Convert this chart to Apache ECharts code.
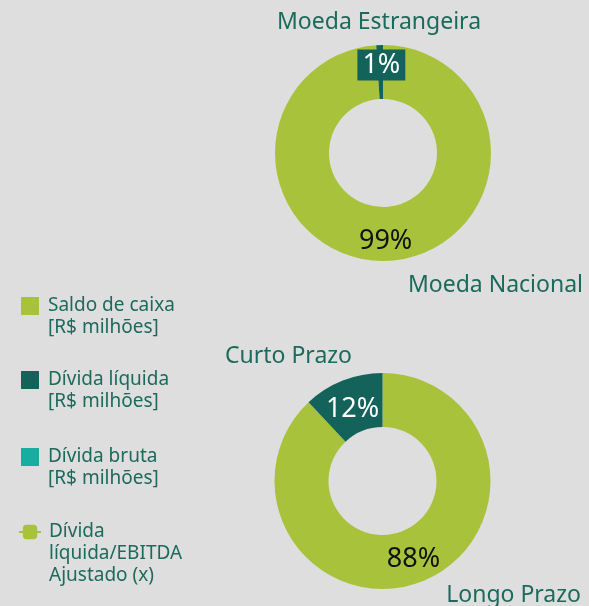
<!DOCTYPE html>
<html lang="pt">

<head>
    <meta charset="UTF-8" />
    <title>Endividamento</title>
    <script src="https://cdn.jsdelivr.net/npm/echarts@6/dist/echarts.min.js"></script>
    <style>
        html, body {
            margin: 0;
            padding: 0;
            background-color: #dedede;
        }
        #main {
            width: 589px;
            height: 606px;
        }
    </style>
</head>

<body>
    <div id="main"></div>

    <script type="text/javascript">
        // dados
        var moedaNames = ['Moeda Nacional', 'Moeda Estrangeira'];
        var moedaValues = [99, 1];
        var prazoNames = ['Longo Prazo', 'Curto Prazo'];
        var prazoValues = [88, 12];
        var legendNames = [
            'Saldo de caixa\n[R$ milhões]',
            'Dívida líquida\n[R$ milhões]',
            'Dívida bruta\n[R$ milhões]',
            'Dívida\nlíquida/EBITDA\nAjustado (x)'
        ];

        var lime = '#a9c23b';
        var dark = '#13635a';
        var teal = '#15aea0';
        var textColor = '#1b6a5c';
        var font = 'Noto Sans';

        var chart = echarts.init(document.getElementById('main'));

        function pieData(names, values) {
            return names.map(function (n, i) {
                var item = { name: n, value: values[i] };
                if (i === 1) {
                    item.itemStyle = { color: dark };
                    item.label = { color: '#ffffff' };
                }
                return item;
            });
        }

        var topData = pieData(moedaNames, moedaValues);
        topData[0].label = { offset: [0, 4] };
        // rótulo do 1% com caixa
        topData[1].label = {
            color: '#ffffff',
            backgroundColor: dark,
            padding: [2, 5, 2, 5],
            lineHeight: 27,
            offset: [1, -4]
        };
        var bottomData = pieData(prazoNames, prazoValues);
        bottomData[1].label = { color: '#ffffff', offset: [1, 6] };

        function pieSeries(center, data) {
            return {
                type: 'pie',
                center: center,
                radius: [54, 108],
                startAngle: 90,
                clockwise: true,
                silent: true,
                itemStyle: { color: lime },
                label: {
                    show: true,
                    position: 'inside',
                    fontFamily: font,
                    fontSize: 27,
                    color: '#111111',
                    formatter: function (p) { return Math.round(p.value) + '%'; }
                },
                labelLine: { show: false },
                data: data
            };
        }

        // legendas: uma por item, ícone alinhado à primeira linha
        var legendTops = [273, 347, 424, 477];
        var legends = legendNames.map(function (n, i) {
            var lines = n.split('\n').length;
            var isLine = i === 3;
            var lg = {
                orient: 'vertical',
                left: isLine ? 18 : 21,
                top: legendTops[i],
                padding: 0,
                itemWidth: isLine ? 22 : 18,
                itemHeight: 18,
                selectedMode: false,
                data: [n],
                formatter: function (name) {
                    return new Array(lines).join('\n') + name;
                },
                textStyle: {
                    fontFamily: font,
                    fontSize: 19,
                    lineHeight: 22,
                    color: textColor,
                    padding: [0, 0, 0, isLine ? 3 : 4]
                }
            };
            if (!isLine) lg.icon = 'rect';
            return lg;
        });

        var option = {
            backgroundColor: '#dedede',
            animation: false,
            title: [
                { text: 'Moeda Estrangeira', left: 277, top: 11 },
                { text: 'Moeda Nacional', right: 6, top: 274 },
                { text: 'Curto Prazo', left: 225, top: 345 },
                { text: 'Longo Prazo', right: 8, top: 584 }
            ].map(function (t) {
                t.padding = 0;
                t.textStyle = { fontFamily: font, fontSize: 23, lineHeight: 23, fontWeight: 'normal', color: textColor };
                return t;
            }),
            legend: legends,
            grid: { show: false, left: -50, top: -50, width: 10, height: 10 },
            xAxis: { show: false, type: 'category', data: [] },
            yAxis: { show: false, type: 'value' },
            series: [
                pieSeries([383, 153], topData),
                pieSeries([382.5, 481], bottomData),
                { name: legendNames[0], type: 'bar', data: [], itemStyle: { color: lime } },
                { name: legendNames[1], type: 'bar', data: [], itemStyle: { color: dark } },
                { name: legendNames[2], type: 'bar', data: [], itemStyle: { color: teal } },
                {
                    name: legendNames[3], type: 'line', data: [],
                    symbol: 'roundRect', symbolSize: [10, 9],
                    itemStyle: { color: lime, borderWidth: 0 },
                    lineStyle: { color: lime, width: 4 }
                }
            ]
        };
        chart.setOption(option);
    </script>
</body>

</html>
